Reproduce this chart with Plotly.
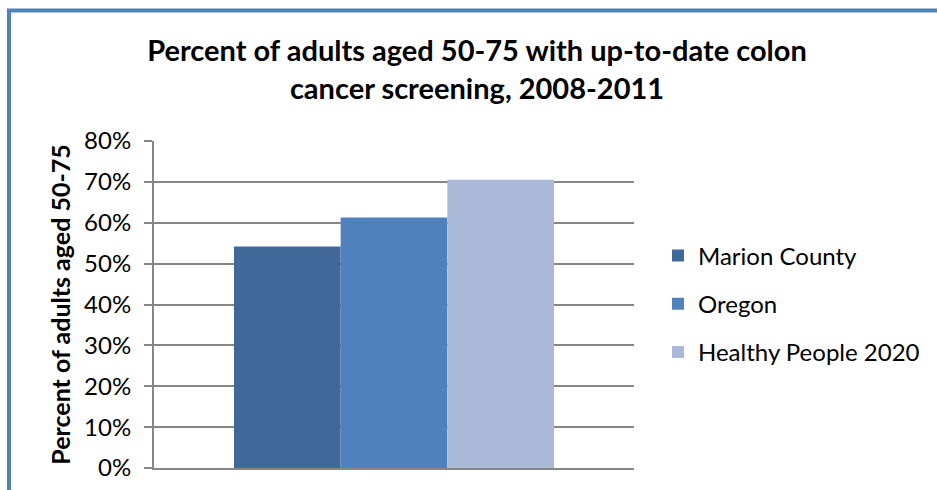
import plotly.graph_objects as go

series = ["Marion County", "Oregon", "Healthy People 2020"]
values = [54.2, 61.3, 70.5]
colors = ["#40699A", "#4F81BD", "#AAB9D7"]
category = [""]
y_ticks = [0, 10, 20, 30, 40, 50, 60, 70, 80]
y_tick_labels = [f"{v}%" for v in y_ticks]

W, H = 937, 490
L, R, T, B = 154, 303, 141, 22

fig = go.Figure()
for i, (name, val, col) in enumerate(zip(series, values, colors)):
    fig.add_trace(go.Bar(
        x=category, y=[val], name=name, marker=dict(color=col, line=dict(width=0)),
        legendgroup=f"g{i}", hoverinfo="skip",
    ))

pw = W - L - R
ph = H - T - B

def px_x(px):
    return (px - L) / pw

def px_y(py):
    return (H - B - py) / ph

fig.add_shape(type="rect", xref="paper", yref="paper",
              x0=px_x(9), x1=px_x(1000), y0=px_y(1000), y1=px_y(10.5),
              line=dict(color="#4F81BD", width=4), fillcolor="rgba(0,0,0,0)", layer="above")

fig.update_layout(
    width=W, height=H,
    margin=dict(l=L, r=R, t=T, b=B, autoexpand=False),
    paper_bgcolor="white", plot_bgcolor="white",
    font=dict(family="Lato", color="#000000"),
    barmode="group", bargap=1/3, bargroupgap=0,
    title=dict(text="<b>Percent of adults aged 50-75 with up-to-date colon<br>cancer screening, 2008-2011</b>",
               x=477 / W, xanchor="center", xref="container",
               y=1 - 61 / H, yanchor="top", yref="container",
               font=dict(family="Lato", size=29, color="#000000")),
    legend=dict(x=px_x(658), xanchor="left", y=px_y(304), yanchor="middle",
                font=dict(family="Lato", size=24, color="#000000"),
                traceorder="grouped", tracegroupgap=14, itemwidth=30,
                bgcolor="rgba(0,0,0,0)"),
    showlegend=True,
)
fig.update_xaxes(showgrid=False, showline=True, linecolor="#868686", linewidth=2,
                 showticklabels=False, ticks="", zeroline=False, fixedrange=True)
fig.update_yaxes(range=[0, 80], tickvals=y_ticks, ticktext=y_tick_labels,
                 showgrid=True, gridcolor="#868686", gridwidth=2,
                 showline=True, linecolor="#868686", linewidth=2,
                 ticks="outside", ticklen=8, tickcolor="#868686", tickwidth=2,
                 ticklabelstandoff=8,
                 tickfont=dict(family="Lato", size=24, color="#000000"),
                 zeroline=False,
                 title=dict(text="<b>Percent of adults aged 50-75</b>", standoff=6,
                            font=dict(family="Lato", size=25, color="#000000")))

fig.write_html("out.html", config={"displayModeBar": False},
               post_script="document.body.style.margin='0';")
